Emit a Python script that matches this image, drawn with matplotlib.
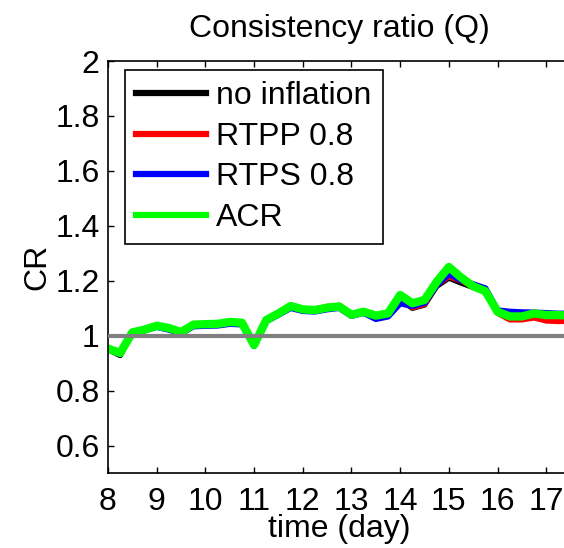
import numpy as np
import matplotlib
matplotlib.use("Agg")
import matplotlib.pyplot as plt

plt.rcParams['font.family'] = ['Liberation Sans', 'DejaVu Sans']

# time axis: every 6 hours from day 8
days = np.arange(8, 17.51, 0.25)

no_inflation = [0.950, 0.928, 1.010, 1.020, 1.034, 1.025, 1.010, 1.036, 1.038, 1.040, 1.046, 1.043,
                0.962, 1.053, 1.078, 1.103, 1.092, 1.090, 1.100, 1.104, 1.074, 1.085, 1.068, 1.076,
                1.132, 1.100, 1.112, 1.180, 1.210, 1.192, 1.176, 1.160, 1.085, 1.066, 1.066, 1.076,
                1.070, 1.068, 1.068]
rtpp = [0.951, 0.933, 1.011, 1.021, 1.035, 1.026, 1.011, 1.037, 1.040, 1.041, 1.047, 1.045,
        0.964, 1.058, 1.083, 1.109, 1.097, 1.097, 1.106, 1.110, 1.078, 1.091, 1.072, 1.078,
        1.138, 1.102, 1.114, 1.185, 1.215, 1.200, 1.178, 1.162, 1.082, 1.058, 1.058, 1.065,
        1.054, 1.052, 1.053]
rtps = [0.951, 0.933, 1.010, 1.019, 1.032, 1.022, 1.008, 1.034, 1.036, 1.037, 1.043, 1.041,
        0.963, 1.053, 1.076, 1.101, 1.090, 1.088, 1.096, 1.101, 1.072, 1.083, 1.061, 1.070,
        1.118, 1.108, 1.120, 1.185, 1.225, 1.202, 1.187, 1.172, 1.092, 1.087, 1.085, 1.084,
        1.082, 1.080, 1.080]
acr = [0.953, 0.937, 1.012, 1.022, 1.036, 1.028, 1.013, 1.040, 1.042, 1.043, 1.050, 1.047,
       0.966, 1.057, 1.081, 1.108, 1.096, 1.093, 1.102, 1.106, 1.076, 1.087, 1.073, 1.081,
       1.148, 1.118, 1.130, 1.196, 1.250, 1.212, 1.180, 1.162, 1.087, 1.070, 1.070, 1.081,
       1.075, 1.075, 1.073]

fig = plt.figure(figsize=(5.64, 5.48), dpi=100)
ax = fig.add_axes([108 / 564, 75 / 548, 462.6 / 564, 412 / 548])

ax.plot(days, no_inflation, color='black', lw=4, label='no inflation')
ax.plot(days, rtpp, color='red', lw=4, label='RTPP 0.8')
ax.plot(days, rtps, color='blue', lw=4.5, label='RTPS 0.8')
ax.plot(days, acr, color='#00ff00', lw=6, label='ACR')
ax.axhline(1, color='#808080', lw=3, zorder=5)

ax.set_xlim(8, 17.5)
ax.set_ylim(0.5, 2)
ax.set_xticks(range(8, 18))
ax.set_yticks([0.6, 0.8, 1, 1.2, 1.4, 1.6, 1.8, 2])
ax.set_yticklabels(['0.6', '0.8', '1', '1.2', '1.4', '1.6', '1.8', '2'])
ax.tick_params(direction='in', length=4, width=1, labelsize=23, top=True, right=True)
ax.tick_params(axis='x', pad=10)
ax.tick_params(axis='y', pad=6)
for s in ax.spines.values():
    s.set_linewidth(1.2)

ax.set_title('Consistency ratio (Q)', fontsize=23, pad=17)
ax.set_xlabel('time (day)', fontsize=23, labelpad=-2)
ax.set_ylabel('CR', fontsize=23, labelpad=2)

leg = ax.legend(loc='upper left', bbox_to_anchor=(0.0367, 0.978), borderaxespad=0,
                fontsize=23, fancybox=False, framealpha=1, edgecolor='black',
                handlelength=2.2, handletextpad=0.3, labelspacing=0.33, borderpad=0.35)
leg.get_frame().set_linewidth(1.2)
for line in leg.get_lines():
    line.set_linewidth(4.5)

fig.savefig('out.png', dpi=100)
